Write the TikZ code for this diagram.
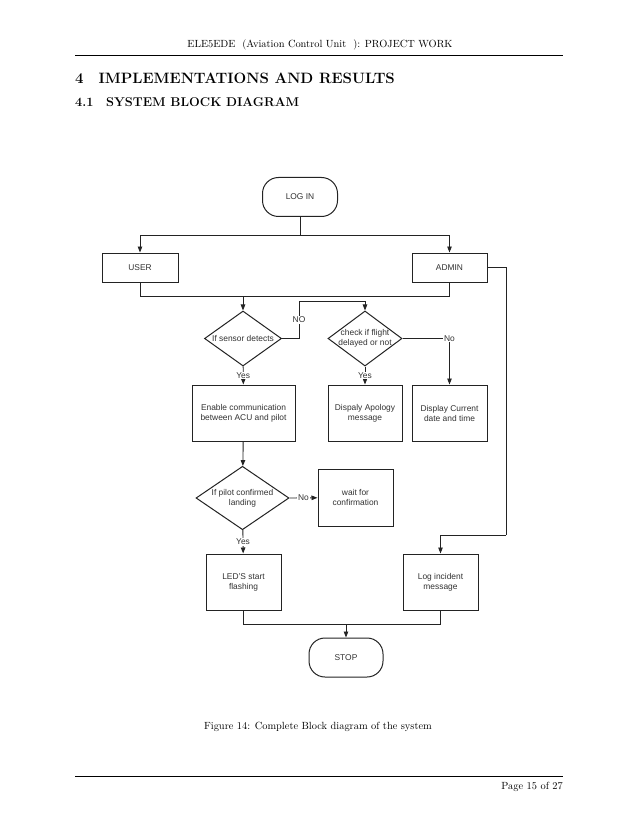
\documentclass[tikz,border=0pt]{standalone}
\usepackage{fontspec}
\setsansfont{Liberation Sans}
\usepackage{tikz}
\usetikzlibrary{positioning,arrows.meta,shapes.geometric}
\definecolor{flowline}{RGB}{35,35,35}
\definecolor{flowtext}{RGB}{50,50,50}
\tikzset{
  chart/.style={font=\sffamily\fontsize{8.4}{10}\selectfont,text=flowtext},
  block/.style={rectangle,draw=flowline,line width=1pt,align=center,inner sep=2pt},
  terminal/.style={rectangle,rounded corners=16pt,draw=flowline,line width=1pt,minimum width=75pt,minimum height=39pt},
  decision/.style={diamond,draw=flowline,line width=1pt,align=center,inner sep=-4pt},
  link/.style={draw=flowline,line width=0.9pt},
  arrow/.style={link,-{Triangle[length=6pt,width=4.5pt]}},
  tag/.style={fill=white,inner sep=1pt}
}

\begin{document}
\begin{tikzpicture}[x=1pt,y=-1pt]
  \useasboundingbox[fill=white] (0,0) rectangle (638,826);

  \node (head) at (320,45) {\fontsize{10.4}{13}\selectfont ELE5EDE~ (Aviation Control Unit~ ): PROJECT WORK};
  \draw[line width=0.8pt] (75,55) -- (563,55);
  \node[anchor=west,inner sep=0pt] (sec) at (75,78) {\fontsize{15}{18}\selectfont\bfseries 4\quad IMPLEMENTATIONS AND RESULTS};
  \node[anchor=west,inner sep=0pt] (subsec) at (75,102) {\fontsize{12.7}{15}\selectfont\bfseries 4.1\quad SYSTEM BLOCK DIAGRAM};

  \begin{scope}[chart]
  \node[terminal] (login) at (300,197) {LOG IN};
  \node[block,minimum width=76pt,minimum height=29pt] (user) at (140,267.5) {USER};
  \node[block,minimum width=75pt,minimum height=29pt] (admin) at (449.5,267.5) {ADMIN};
  \node[decision,minimum width=77pt,minimum height=55pt] (sense) at (243,338.5) {If sensor detects};
  \node[decision,minimum width=74pt,minimum height=55pt] (flight) at (365,338.5) {check if flight\\delayed or not};
  \node[block,minimum width=103pt,minimum height=56pt] (enable) at (243.5,413) {Enable communication\\between ACU and pilot};
  \node[block,minimum width=74pt,minimum height=56pt] (apology) at (365,413) {Dispaly Apology\\message};
  \node[block,minimum width=75pt,minimum height=56pt] (datetime) at (449.5,413) {Display Current\\date and time};
  \node[decision,minimum width=93pt,minimum height=56pt] (confirm) at (242.5,498) {If pilot confirmed\\landing};
  \node[block,minimum width=75pt,minimum height=57pt] (waitc) at (355.5,497.5) {wait for\\confirmation};
  \node[block,minimum width=75pt,minimum height=56pt] (leds) at (243.5,582) {LED'S start\\flashing};
  \node[block,minimum width=75pt,minimum height=56pt] (logmsg) at (440.5,582) {Log incident\\message};
  \node[terminal,minimum width=74pt] (stop) at (346,657.5) {STOP};

  \coordinate (split) at (300,235);
  \coordinate (merge) at (243,296);
  \coordinate (nobend) at (299,301);
  \coordinate (rside) at (506,535);
  \coordinate (join) at (346,624);

  \draw[link] (login) -- (split);
  \draw[arrow] (split) -| (user);
  \draw[arrow] (split) -| (admin);
  \draw[link] (user) |- (merge);
  \draw[link] (admin) |- (merge);
  \draw[arrow] (merge) -- (sense);
  \draw[link] (sense.east) -| node[tag,pos=0.75]{NO} (nobend);
  \draw[arrow] (nobend) -| (flight);
  \draw[arrow] (flight.east) -| node[tag,pos=0.5]{No} (datetime);
  \draw[arrow] (sense) -- node[tag]{Yes} (enable);
  \draw[arrow] (flight) -- node[tag]{Yes} (apology);
  \draw[arrow] (enable) -- (confirm);
  \draw[arrow] (confirm.east) -- node[tag]{No} (waitc);
  \draw[arrow] (confirm) -- node[tag]{Yes} (leds);
  \draw[link] (admin.east) -| (rside);
  \draw[arrow] (rside) -| (logmsg);
  \draw[link] (leds) |- (join);
  \draw[link] (logmsg) |- (join);
  \draw[arrow] (join) -- (stop);
  \end{scope}

  \node (caption) at (318,727) {\fontsize{10.4}{13}\selectfont Figure 14: Complete Block diagram of the system};
  \draw[line width=0.8pt] (75,776) -- (563,776);
  \node[anchor=east,inner sep=0pt] (page) at (563,787) {\fontsize{10.4}{13}\selectfont Page 15 of 27};
\end{tikzpicture}
\end{document}
